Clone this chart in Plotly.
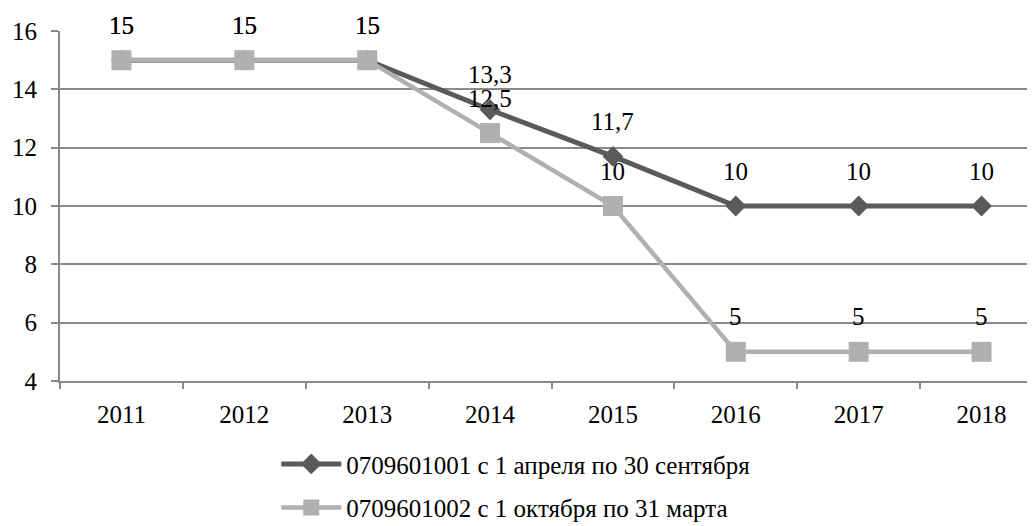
import plotly.graph_objects as go

years = ["2011", "2012", "2013", "2014", "2015", "2016", "2017", "2018"]
series1_name = "0709601001 с 1 апреля по 30 сентября"
series1 = [15, 15, 15, 13.3, 11.7, 10, 10, 10]
series2_name = "0709601002 с 1 октября по 31 марта"
series2 = [15, 15, 15, 12.5, 10, 5, 5, 5]
y_ticks = [4, 6, 8, 10, 12, 14, 16]

dark = "#5a5a5a"
light = "#b0b0b0"
axis_col = "#898989"
font = "Liberation Serif"
FS = 25

def fmt(v):
    return ("%g" % v).replace(".", ",")

fig = go.Figure()
fig.add_trace(go.Scatter(
    x=years, y=series1, name=series1_name, mode="lines+markers",
    line=dict(color=dark, width=5),
    marker=dict(symbol="diamond", size=16, color=dark),
    legendgroup="a",
))
fig.add_trace(go.Scatter(
    x=years, y=series2, name=series2_name, mode="lines+markers",
    line=dict(color=light, width=4.5),
    marker=dict(symbol="square", size=20, color=light),
    legendgroup="b",
))

annotations = []
for ys in (series1, series2):
    for i, y in enumerate(ys):
        annotations.append(dict(
            x=i, y=y, xref="x", yref="y", text=fmt(y), showarrow=False,
            yshift=35, font=dict(family=font, size=FS, color="#000000"),
        ))

fig.update_layout(
    width=1035, height=526,
    margin=dict(l=52, r=0, t=23, b=153, autoexpand=False),
    paper_bgcolor="white", plot_bgcolor="white",
    font=dict(family=font, size=FS, color="#000000"),
    showlegend=True,
    legend=dict(
        orientation="v", x=0.22, xanchor="left", y=-0.172, yanchor="top",
        font=dict(family=font, size=FS, color="#000000"),
        tracegroupgap=8, itemwidth=60,
    ),
    annotations=annotations,
    xaxis=dict(
        type="category", range=[-0.5, 7.5],
        showgrid=False, showline=True, linecolor=axis_col, linewidth=2,
        ticks="outside", tickson="boundaries", ticklen=6, tickcolor=axis_col, tickwidth=2,
        tickfont=dict(family=font, size=FS), zeroline=False, ticklabelstandoff=10,
    ),
    yaxis=dict(
        range=[4, 16], tickvals=y_ticks,
        showgrid=True, gridcolor=axis_col, gridwidth=2,
        showline=True, linecolor=axis_col, linewidth=2,
        ticks="outside", ticklen=7, tickcolor=axis_col, tickwidth=2,
        tickfont=dict(family=font, size=FS), zeroline=False, ticklabelstandoff=9,
    ),
)

fig.write_html("out.html")
